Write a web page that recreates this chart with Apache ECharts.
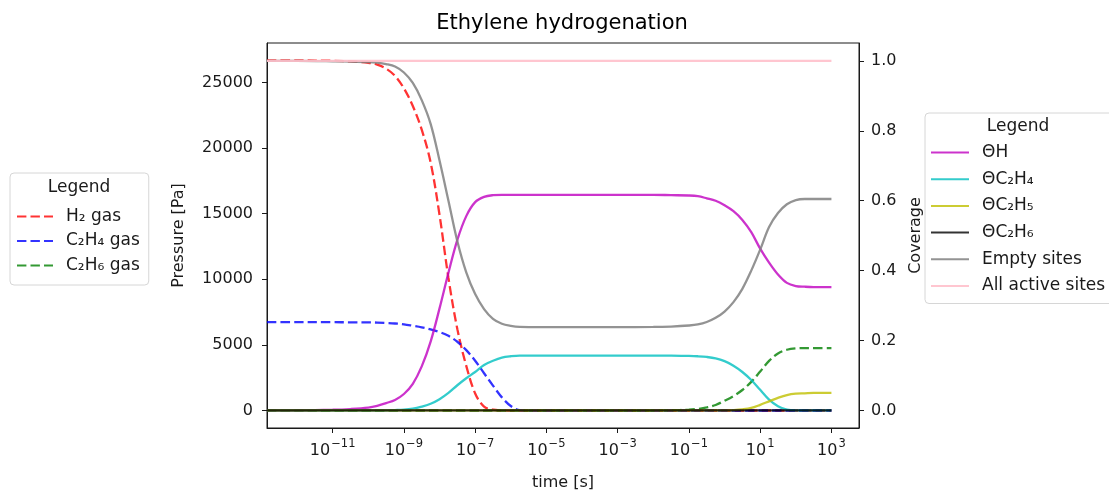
<!DOCTYPE html>
<html>
<head>
<meta charset="utf-8">
<script src="https://cdn.jsdelivr.net/npm/echarts/dist/echarts.min.js"></script>
<style>
  html, body { margin: 0; padding: 0; background: #ffffff; }
  #chart { width: 1109px; height: 490px; }
</style>
</head>
<body>
<div id="chart"></div>
<script>
// Simulation time grid [s]
const times = [
  1.435e-13, 1e-12, 1e-11, 3.162e-11, 1e-10, 1.778e-10, 3.162e-10, 5.623e-10,
  1e-9, 1.778e-9, 3.162e-9, 5.623e-9, 1e-8, 1.778e-8, 3.162e-8, 5.623e-8,
  1e-7, 1.778e-7, 3.162e-7, 5.623e-7, 1e-6, 1.778e-6, 3.162e-6, 1e-5,
  1e-4, 1e-3, 1e-2, 0.03162, 0.1, 0.1778, 0.3162, 0.5623,
  1, 1.778, 3.162, 5.623, 10, 17.78, 31.62, 56.23,
  100, 177.8, 316.2, 1000
];

// Gas-phase partial pressures [Pa]
const h2Gas = [
  26670, 26670, 26650, 26600, 26500, 26350, 26050, 25500,
  24550, 23200, 21400, 18900, 14900, 10100, 6200, 3400,
  1300, 300, 60, 10, 0, 0, 0, 0,
  0, 0, 0, 0, 0, 0, 0, 0,
  0, 0, 0, 0, 0, 0, 0, 0,
  0, 0, 0, 0
];
const c2h4Gas = [
  6730, 6730, 6730, 6720, 6710, 6700, 6670, 6630,
  6570, 6460, 6340, 6180, 5980, 5690, 5240, 4600,
  3790, 2840, 1900, 1000, 340, 30, 0, 0,
  0, 0, 0, 0, 0, 0, 0, 0,
  0, 0, 0, 0, 0, 0, 0, 0,
  0, 0, 0, 0
];
const c2h6Gas = [
  0, 0, 0, 0, 0, 0, 0, 0,
  0, 0, 0, 0, 0, 0, 0, 0,
  0, 0, 0, 0, 0, 0, 0, 0,
  0, 0, 0, 20, 60, 120, 230, 420,
  740, 1100, 1560, 2180, 2970, 3780, 4350, 4630,
  4740, 4760, 4760, 4760
];

// Surface coverages [-]
const thetaH = [
  0, 0.0005, 0.002, 0.004, 0.008, 0.013, 0.021, 0.03,
  0.047, 0.076, 0.126, 0.197, 0.292, 0.394, 0.488, 0.556,
  0.596, 0.611, 0.616, 0.617, 0.617, 0.617, 0.617, 0.617,
  0.617, 0.617, 0.617, 0.616, 0.615, 0.613, 0.607, 0.600,
  0.587, 0.570, 0.545, 0.510, 0.463, 0.423, 0.389, 0.365,
  0.356, 0.354, 0.353, 0.353
];
const thetaC2H4 = [
  0, 0, 0, 0, 0, 0, 0.0005, 0.001,
  0.002, 0.005, 0.011, 0.019, 0.032, 0.05, 0.072, 0.092,
  0.11, 0.13, 0.142, 0.151, 0.155, 0.157, 0.157, 0.157,
  0.157, 0.157, 0.157, 0.157, 0.156, 0.155, 0.153, 0.149,
  0.141, 0.128, 0.11, 0.087, 0.059, 0.031, 0.012, 0.002,
  0, 0, 0, 0
];
const thetaC2H5 = [
  0, 0, 0, 0, 0, 0, 0, 0,
  0, 0, 0, 0, 0, 0, 0, 0,
  0, 0, 0, 0, 0, 0, 0, 0,
  0, 0, 0, 0, 0, 0, 0, 0,
  0, 0.001, 0.003, 0.007, 0.016, 0.026, 0.036, 0.044,
  0.048, 0.049, 0.05, 0.05
];
const thetaC2H6 = [
  0, 0, 0, 0, 0, 0, 0, 0,
  0, 0, 0, 0, 0, 0, 0, 0,
  0, 0, 0, 0, 0, 0, 0, 0,
  0, 0, 0, 0, 0, 0, 0, 0,
  0, 0, 0, 0, 0, 0, 0, 0,
  0, 0, 0, 0
];
const emptySites = [
  1.0, 1.0, 0.999, 0.998, 0.997, 0.995, 0.991, 0.984,
  0.967, 0.937, 0.888, 0.82, 0.715, 0.60, 0.484, 0.395,
  0.333, 0.29, 0.262, 0.248, 0.242, 0.239, 0.2386, 0.2386,
  0.2386, 0.2386, 0.2388, 0.240, 0.243, 0.246, 0.253, 0.265,
  0.283, 0.31, 0.348, 0.40, 0.46, 0.525, 0.565, 0.59,
  0.602, 0.605, 0.605, 0.605
];
const allSites = times.map(() => 1.0);

// Axis ticks
const timeTickExponents = [-11, -9, -7, -5, -3, -1, 1, 3];
const pressureTicks = [0, 5000, 10000, 15000, 20000, 25000];
const coverageTicks = [0, 0.2, 0.4, 0.6, 0.8, 1.0];

// Axis ranges (decades for time)
const timeExpMin = -12.843, timeExpMax = 3.774;
const pressureMin = -1334, pressureMax = 28004;
const coverageMin = -0.0503, coverageMax = 1.0514;

const FONT = 'DejaVu Sans';
const TEXT = '#1a1a1a';

const pairs = ys => times.map((t, i) => [t, ys[i]]);

function lineSeries(name, ys, color, yAxisIndex, dashed) {
  return {
    name: name,
    type: 'line',
    xAxisIndex: 0,
    yAxisIndex: yAxisIndex,
    data: pairs(ys),
    symbol: 'none',
    smooth: 0.35,
    color: color,
    lineStyle: { color: color, width: 2.3, type: dashed ? [9.4, 4.1] : 'solid', cap: 'butt' },
    emphasis: { disabled: true },
    silent: true
  };
}

const supMinus = '\u2212';
function timeLabel(v) {
  const e = Math.round(v);
  return '{b|10}{s|' + (e < 0 ? supMinus : '') + Math.abs(e) + '}';
}

const legendText = { fontFamily: FONT, fontSize: 17, lineHeight: 16, color: TEXT, padding: [0, 0, 0, 8] };
const hiddenMarker = { color: 'rgba(0,0,0,0)', borderWidth: 0, opacity: 0 };

const chart = echarts.init(document.getElementById('chart'), null, { renderer: 'canvas' });
chart.setOption({
  animation: false,
  backgroundColor: '#ffffff',
  grid: {
    left: 267, right: 250, top: 43, bottom: 62,
    show: true, borderColor: '#1a1a1a', borderWidth: 1,
    outerBoundsMode: 'none'
  },
  xAxis: [
    {
      type: 'log', logBase: 10,
      min: Math.pow(10, timeExpMin), max: Math.pow(10, timeExpMax),
      position: 'top',
      axisLine: { show: false }, axisTick: { show: false },
      axisLabel: { show: false }, splitLine: { show: false }, minorTick: { show: false }
    },
    {
      type: 'value', min: timeExpMin, max: timeExpMax, position: 'bottom',
      name: 'time [s]', nameLocation: 'middle', nameGap: 47,
      nameTextStyle: { fontFamily: FONT, fontSize: 16, color: TEXT },
      axisLine: { show: true, onZero: false, lineStyle: { color: '#1a1a1a', width: 1 } },
      axisTick: { show: true, length: 5, customValues: timeTickExponents, lineStyle: { color: '#1a1a1a', width: 1 } },
      axisLabel: {
        show: true, customValues: timeTickExponents, margin: 10,
        formatter: timeLabel,
        rich: {
          b: { fontFamily: FONT, fontSize: 16, color: TEXT },
          s: { fontFamily: FONT, fontSize: 11.5, color: TEXT, padding: [0, 0, 13, 1] }
        }
      },
      splitLine: { show: false }
    }
  ],
  yAxis: [
    {
      type: 'value', min: pressureMin, max: pressureMax, position: 'left',
      name: 'Pressure [Pa]', nameLocation: 'middle', nameGap: 80,
      nameTextStyle: { fontFamily: FONT, fontSize: 16, color: TEXT },
      axisLine: { show: true, onZero: false, lineStyle: { color: '#1a1a1a', width: 1 } },
      axisTick: { show: true, length: 5, customValues: pressureTicks, lineStyle: { color: '#1a1a1a', width: 1 } },
      axisLabel: {
        customValues: pressureTicks, margin: 14,
        formatter: v => String(Math.round(v)),
        fontFamily: FONT, fontSize: 16, color: TEXT
      },
      splitLine: { show: false }
    },
    {
      type: 'value', min: coverageMin, max: coverageMax, position: 'right',
      name: 'Coverage', nameLocation: 'middle', nameGap: 44,
      nameTextStyle: { fontFamily: FONT, fontSize: 16, color: TEXT },
      axisLine: { show: true, onZero: false, lineStyle: { color: '#1a1a1a', width: 1 } },
      axisTick: { show: true, length: 5, customValues: coverageTicks, lineStyle: { color: '#1a1a1a', width: 1 } },
      axisLabel: {
        customValues: coverageTicks, margin: 12,
        formatter: v => v.toFixed(1),
        fontFamily: FONT, fontSize: 16, color: TEXT
      },
      splitLine: { show: false }
    }
  ],
  legend: [
    {
      data: ['H₂ gas', 'C₂H₄ gas', 'C₂H₆ gas'],
      orient: 'vertical', left: 10, top: 173,
      padding: [35, 9, 11, 6],
      itemWidth: 36, itemHeight: 10, itemGap: 7.5,
      borderColor: '#d6d6d6', borderWidth: 1, borderRadius: 4,
      backgroundColor: '#ffffff',
      itemStyle: hiddenMarker,
      selectedMode: false, textStyle: legendText
    },
    {
      data: ['ΘH', 'ΘC₂H₄', 'ΘC₂H₅', 'ΘC₂H₆', 'Empty sites', 'All active sites'],
      orient: 'vertical', left: 925, top: 113,
      padding: [31, 10, 9, 5],
      itemWidth: 38, itemHeight: 10, itemGap: 9.7,
      borderColor: '#d6d6d6', borderWidth: 1, borderRadius: 4,
      backgroundColor: '#ffffff',
      itemStyle: hiddenMarker,
      selectedMode: false, textStyle: legendText
    }
  ],
  graphic: [
    { type: 'text', x: 562, y: 24, z: 100,
      style: { text: 'Ethylene hydrogenation', fontFamily: FONT, fontSize: 21, fill: '#000000', align: 'center', verticalAlign: 'middle' } },
    { type: 'text', x: 79, y: 188, z: 100,
      style: { text: 'Legend', fontFamily: FONT, fontSize: 17, fill: TEXT, align: 'center', verticalAlign: 'middle' } },
    { type: 'text', x: 1018, y: 127, z: 100,
      style: { text: 'Legend', fontFamily: FONT, fontSize: 17, fill: TEXT, align: 'center', verticalAlign: 'middle' } }
  ],
  series: [
    lineSeries('H₂ gas', h2Gas, 'rgba(255,0,0,0.8)', 0, true),
    lineSeries('C₂H₄ gas', c2h4Gas, 'rgba(0,0,255,0.8)', 0, true),
    lineSeries('C₂H₆ gas', c2h6Gas, 'rgba(0,128,0,0.8)', 0, true),
    lineSeries('ΘH', thetaH, 'rgba(191,0,191,0.8)', 1, false),
    lineSeries('ΘC₂H₄', thetaC2H4, 'rgba(0,191,191,0.8)', 1, false),
    lineSeries('ΘC₂H₅', thetaC2H5, 'rgba(191,191,0,0.8)', 1, false),
    lineSeries('ΘC₂H₆', thetaC2H6, 'rgba(0,0,0,0.8)', 1, false),
    lineSeries('Empty sites', emptySites, 'rgba(128,128,128,0.85)', 1, false),
    lineSeries('All active sites', allSites, 'rgba(255,192,203,0.9)', 1, false)
  ]
});
</script>
</body>
</html>
